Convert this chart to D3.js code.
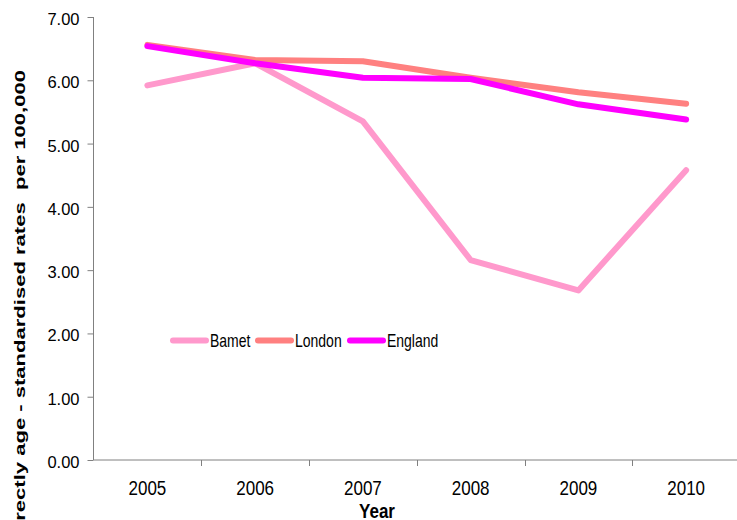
<!DOCTYPE html>
<html><head><meta charset="utf-8">
<script src="https://cdn.jsdelivr.net/npm/d3@7"></script>
<style>html,body{margin:0;padding:0;background:#fff;overflow:hidden}svg{display:block}text{font-family:Arial,"Liberation Sans",sans-serif}</style>
</head><body>
<script>
const years = ["2005","2006","2007","2008","2009","2010"];
const barnet = [5.92, 6.27, 5.35, 3.16, 2.68, 4.58];
const london = [6.56, 6.32, 6.30, 6.04, 5.81, 5.63];
const england = [6.54, 6.27, 6.04, 6.02, 5.62, 5.38];
const yTicks = [0,1,2,3,4,5,6,7];
const seriesNames = ["Bamet","London","England"];
const seriesColors = ["#FF99CC","#FF8080","#FF00FF"];
const seriesData = [barnet, london, england];

const W = 737, H = 520;
const svg = d3.select("body").append("svg").attr("width", W).attr("height", H);

const x = d3.scaleBand().domain(years).range([93.5, 740]);
const y = d3.scaleLinear().domain([0, 7]).range([460, 17]);

// Y axis
const yAxis = svg.append("g").attr("transform","translate(93.5,0)")
  .call(d3.axisLeft(y).tickValues(yTicks).tickFormat(d3.format(".2f")).tickSize(6).tickPadding(8));
yAxis.select(".domain").attr("stroke","#808080").attr("d","M0,"+y(7)+"V"+y(0));
yAxis.selectAll(".tick line").attr("stroke","#808080");
yAxis.selectAll(".tick text").attr("font-size",16.5).attr("fill","#000").attr("dy","0.45em");

// X axis
const xAxis = svg.append("g").attr("transform","translate(0,460)")
  .call(d3.axisBottom(x).tickSize(0).tickPadding(0));
xAxis.select(".domain").attr("stroke","#808080").attr("d","M93.5,0H740");
xAxis.selectAll(".tick text").attr("font-size",17).attr("fill","#000")
  .attr("dy",null).attr("y",null).attr("transform","translate(0,35) scale(1,1.22)");
// tick marks at band boundaries
const bounds = years.map(d => x(d)).concat([x(years[years.length-1]) + x.bandwidth()]).slice(1);
svg.append("g").selectAll("line").data(bounds).join("line")
  .attr("x1", d=>Math.round(d)+0.5).attr("x2", d=>Math.round(d)+0.5)
  .attr("y1",460).attr("y2",466).attr("stroke","#808080");

// Lines
const line = d3.line().x((d,i)=>x(years[i])+x.bandwidth()/2).y(d=>y(d));
svg.append("g").selectAll("path").data(seriesData).join("path")
  .attr("d", d=>line(d)).attr("fill","none")
  .attr("stroke",(d,i)=>seriesColors[i]).attr("stroke-width",6)
  .attr("stroke-linejoin","round").attr("stroke-linecap","round");

// Legend
const legendX = [173, 258, 350];
const lg = svg.append("g").selectAll("g").data(seriesNames).join("g")
  .attr("transform",(d,i)=>`translate(${legendX[i]},340.5)`);
lg.append("line").attr("x1",0).attr("x2",33).attr("stroke",(d,i)=>seriesColors[i])
  .attr("stroke-width",6).attr("stroke-linecap","round");
lg.append("text").attr("x",37).attr("y",0).attr("font-size",14)
  .attr("transform","translate(0,6) scale(1,1.28)").attr("fill","#000")
  .text(d=>d);

// Axis titles
svg.append("text").attr("x",0).attr("y",0).attr("text-anchor","middle")
  .attr("font-weight","bold").attr("font-size",17)
  .attr("transform","translate(377,518) scale(1,1.22)").text("Year");
svg.append("text").attr("text-anchor","end").attr("font-weight","bold").attr("font-size",15)
  .style("white-space","pre")
  .attr("transform","translate(25,70) rotate(-90) scale(1.47,1)")
  .text("Directly age - standardised rates  per 100,000");
</script>
</body></html>
